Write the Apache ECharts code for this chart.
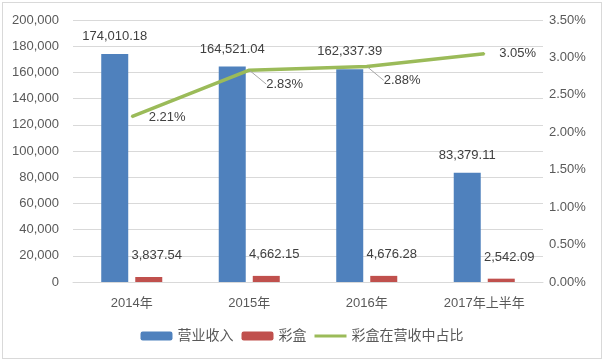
<!DOCTYPE html>
<html><head><meta charset="utf-8">
<script src="https://cdn.jsdelivr.net/npm/echarts@6/dist/echarts.min.js"></script>
<style>html,body{margin:0;padding:0;background:#fff}#c{position:absolute;left:2px;top:2px;width:600px;height:357px;border:1px solid #d9d9d9;box-sizing:border-box}</style>
</head><body><div id="c"></div>
<script>
const categories = ['2014年','2015年','2016年','2017年上半年'];
const revenue = [174010.18, 164521.04, 162337.39, 83379.11];
const colorBox = [3837.54, 4662.15, 4676.28, 2542.09];
const share = [2.21, 2.83, 2.88, 3.05];
const leftTicks = {min:0, max:200000, interval:20000};
const rightTicks = {min:0, max:3.5, interval:0.5};

const font = '"Liberation Sans","Noto Sans CJK SC",sans-serif';
const txt = '#595959';
const fmt = v => v.toLocaleString('en-US',{minimumFractionDigits:2,maximumFractionDigits:2});
const leader = [false, true, true, false];
const chart = echarts.init(document.getElementById('c'));
chart.setOption({
  animation:false,
  textStyle:{fontFamily:font},
  grid:{left:70,right:58,top:17,bottom:76},
  legend:{bottom:10,left:'center',itemWidth:32,itemHeight:9,itemGap:8,
    textStyle:{fontSize:14,color:txt,fontFamily:font},
    data:['营业收入','彩盒',{name:'彩盒在营收中占比',icon:'path://M0,0 L32,0 L32,3 L0,3 Z'}]},
  xAxis:{type:'category',data:categories,
    axisLine:{lineStyle:{color:'#d9d9d9'}},axisTick:{show:false},
    axisLabel:{color:txt,fontSize:13,margin:15}},
  yAxis:[
    {type:'value',min:leftTicks.min,max:leftTicks.max,interval:leftTicks.interval,
     axisLabel:{color:txt,fontSize:13,margin:14,formatter:v=>v.toLocaleString('en-US')},
     splitLine:{lineStyle:{color:'#d9d9d9'}},axisLine:{show:false},axisTick:{show:false}},
    {type:'value',min:rightTicks.min,max:rightTicks.max,interval:rightTicks.interval,
     axisLabel:{color:txt,fontSize:13,margin:6,formatter:v=>v.toFixed(2)+'%'},
     splitLine:{show:false},axisLine:{show:false},axisTick:{show:false}}
  ],
  series:[
    {name:'营业收入',type:'bar',data:revenue,barWidth:27,barGap:'26%',
     itemStyle:{color:'#4F81BD'},
     label:{show:true,position:'top',distance:11,color:'#404040',fontSize:13,formatter:p=>fmt(p.value)}},
    {name:'彩盒',type:'bar',data:colorBox,barWidth:27,
     itemStyle:{color:'#C0504D'},
     label:{show:true,position:'top',distance:15,offset:[8,0],color:'#404040',fontSize:13,formatter:p=>fmt(p.value)}},
    {name:'彩盒在营收中占比',type:'line',yAxisIndex:1,
     data:share.map((v,i)=>({value:v,labelLine:{show:leader[i]}})),
     symbol:'circle',symbolSize:2,showSymbol:true,
     lineStyle:{color:'#9BBB59',width:3.5},itemStyle:{color:'#9BBB59'},
     label:{show:true,position:'right',distance:14,color:'#404040',fontSize:13,formatter:p=>p.value.toFixed(2)+'%'},
     labelLine:{show:true,lineStyle:{color:'#a6a6a6',width:1}},
     labelLayout:function(p){
       if(p.dataIndex===1||p.dataIndex===2){return {dx:2,dy:14};}
       if(p.dataIndex===0){return {dx:2,dy:1};}
       return {};
     }}
  ]
});
</script></body></html>
